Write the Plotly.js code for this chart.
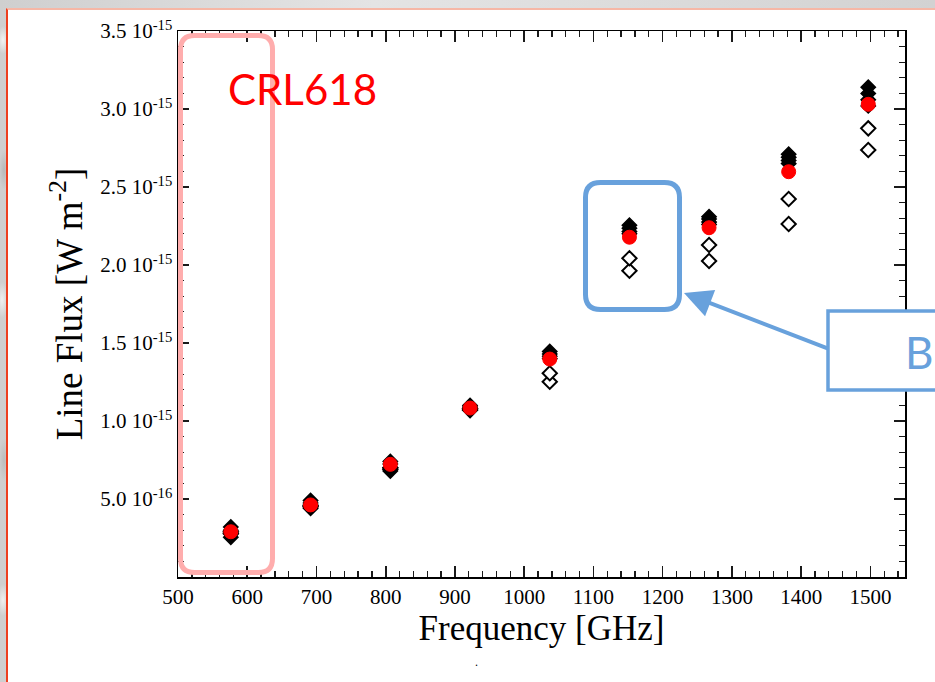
<!DOCTYPE html>
<html>
<head>
<meta charset="utf-8">
<script src="https://cdn.plot.ly/plotly-3.0.1.min.js"></script>
<style>
  html, body { margin: 0; padding: 0; }
  body {
    width: 935px; height: 682px; overflow: hidden; position: relative;
    background-color: #d6d6d6;
    background-image:
      radial-gradient(ellipse 6px 14px at 3px 40px, #f2f2f2 0%, transparent 100%),
      radial-gradient(ellipse 5px 20px at 4px 170px, #b8b8b8 0%, transparent 100%),
      radial-gradient(ellipse 6px 18px at 2px 300px, #efefef 0%, transparent 100%),
      radial-gradient(ellipse 5px 22px at 4px 460px, #bcbcbc 0%, transparent 100%),
      radial-gradient(ellipse 6px 16px at 3px 600px, #f0f0f0 0%, transparent 100%),
      linear-gradient(90deg, #cfcfcf, #e4e4e4 40%, #d2d2d2);
  }
  #sheet {
    position: absolute; left: 6px; top: 8px; width: 940px; height: 690px;
    background: #ffffff;
    border-left: 2px solid #ee3f1f;
    border-top: 2px solid #f6b7a6;
  }
  #chart { position: absolute; left: 0; top: 0; width: 935px; height: 682px; }
</style>
</head>
<body>
<div id="sheet"></div>
<div id="chart"></div>
<script>
// CO ladder line frequencies (GHz), J=5-4 up to J=13-12
const frequency = [576.27, 691.47, 806.65, 921.80, 1036.91, 1151.99, 1267.01, 1381.99, 1496.92];

// Line fluxes in W m^-2
const modelA = [3.20e-16, 4.90e-16, 7.40e-16, 1.100e-15, 1.445e-15, 2.255e-15, 2.310e-15, 2.710e-15, 3.140e-15];
const modelB = [3.00e-16, 4.75e-16, 7.25e-16, 1.090e-15, 1.430e-15, 2.235e-15, 2.295e-15, 2.690e-15, 3.100e-15];
const modelC = [2.75e-16, 4.55e-16, 7.00e-16, 1.080e-15, 1.415e-15, 2.215e-15, 2.275e-15, 2.670e-15, 3.060e-15];
const modelD = [2.55e-16, 4.40e-16, 6.80e-16, 1.070e-15, 1.400e-15, 2.200e-15, 2.260e-15, 2.650e-15, 3.020e-15];
const bestFit = [2.90e-16, 4.62e-16, 7.22e-16, 1.083e-15, 1.397e-15, 2.178e-15, 2.239e-15, 2.598e-15, 3.030e-15];
const altFit1 = [2.90e-16, 4.60e-16, 7.00e-16, 1.080e-15, 1.306e-15, 2.043e-15, 2.128e-15, 2.423e-15, 2.876e-15];
const altFit2 = [2.80e-16, 4.50e-16, 6.90e-16, 1.070e-15, 1.252e-15, 1.963e-15, 2.026e-15, 2.263e-15, 2.737e-15];

const yTickVals = [5.0e-16, 1.0e-15, 1.5e-15, 2.0e-15, 2.5e-15, 3.0e-15, 3.5e-15];
const yTickText = ['5.0 10<sup>-16</sup>', '1.0 10<sup>-15</sup>', '1.5 10<sup>-15</sup>',
                   '2.0 10<sup>-15</sup>', '2.5 10<sup>-15</sup>', '3.0 10<sup>-15</sup>',
                   '3.5 10<sup>-15</sup>'];

// minor y ticks every 1e-16 between the labelled ones
const yMinorVals = [];
for (let i = 1; i < 35; i++) { if (i % 5 !== 0) yMinorVals.push(i * 1e-16); }

// plot area in page pixels
const L = 178, R = 905, T = 31, B = 577;
const W = R - L, H = B - T;
const px = x => (x - L) / W;
const py = y => (B - y) / H;

function roundRect(x0, y0, x1, y1, r) {
  const P = (x, y) => px(x) + ',' + py(y);
  return 'M' + P(x0 + r, y0) + ' L' + P(x1 - r, y0) +
         ' Q' + P(x1, y0) + ' ' + P(x1, y0 + r) +
         ' L' + P(x1, y1 - r) +
         ' Q' + P(x1, y1) + ' ' + P(x1 - r, y1) +
         ' L' + P(x0 + r, y1) +
         ' Q' + P(x0, y1) + ' ' + P(x0, y1 - r) +
         ' L' + P(x0, y0 + r) +
         ' Q' + P(x0, y0) + ' ' + P(x0 + r, y0) + ' Z';
}

const openDiamond = {symbol: 'diamond', size: 11, color: '#ffffff', line: {color: '#000000', width: 2}};
const filledDiamond = {symbol: 'diamond', size: 11, color: '#000000', line: {color: '#000000', width: 1.5}};

function series(y, marker) {
  return {x: frequency, y: y, type: 'scatter', mode: 'markers', marker: marker,
          hoverinfo: 'x+y', cliponaxis: false};
}

const traces = [
  series(altFit2, openDiamond),
  series(altFit1, openDiamond),
  series(modelD, filledDiamond),
  series(modelC, filledDiamond),
  series(modelB, filledDiamond),
  series(modelA, filledDiamond),
  series(bestFit, {symbol: 'circle', size: 14, color: '#ff0000', line: {color: '#ff0000', width: 1}})
];

const serif = 'Liberation Serif, Times New Roman, serif';
const blue = '#68a1dc';

const axisCommon = {
  showgrid: false, zeroline: false, showline: true, linecolor: '#000000', linewidth: 1.5,
  mirror: 'ticks', ticks: 'inside', ticklen: 11, tickwidth: 1.6, tickcolor: '#1a1a1a',
  tickfont: {family: serif, size: 21, color: '#000000'}
};

const layout = {
  width: 935, height: 682,
  margin: {l: L, r: 935 - R, t: T, b: 682 - B, pad: 0},
  paper_bgcolor: 'rgba(0,0,0,0)',
  plot_bgcolor: '#ffffff',
  showlegend: false,
  xaxis: Object.assign({}, axisCommon, {
    range: [500, 1550],
    tickmode: 'linear', tick0: 500, dtick: 100,
    minor: {dtick: 20, ticks: 'inside', ticklen: 6, tickwidth: 1.3, tickcolor: '#1a1a1a'},
    title: {text: 'Frequency [GHz]', font: {family: serif, size: 35, color: '#000000'}, standoff: 6}
  }),
  yaxis: Object.assign({}, axisCommon, {
    range: [0, 3.5e-15],
    tickmode: 'array', tickvals: yTickVals, ticktext: yTickText,
    minor: {tickmode: 'array', tickvals: yMinorVals, ticks: 'inside', ticklen: 6, tickwidth: 1.3, tickcolor: '#1a1a1a'},
    title: {text: 'Line Flux [W m<sup>-2</sup>]', font: {family: serif, size: 37, color: '#000000'}, standoff: 6}
  }),
  shapes: [
    {type: 'path', xref: 'paper', yref: 'paper', layer: 'above',
     path: roundRect(180.5, 35.5, 272.5, 572.5, 14),
     line: {color: '#ffadad', width: 5}},
    {type: 'path', xref: 'paper', yref: 'paper', layer: 'above',
     path: roundRect(585.5, 182.5, 679.5, 309.5, 15),
     line: {color: blue, width: 5}},
    {type: 'rect', xref: 'paper', yref: 'paper', layer: 'above',
     x0: px(828), x1: px(960), y0: py(311), y1: py(390),
     fillcolor: '#ffffff', line: {color: blue, width: 3.5}}
  ],
  annotations: [
    {xref: 'paper', yref: 'paper', x: px(226), y: py(89), xanchor: 'left', yanchor: 'middle',
     text: 'CRL618', showarrow: false, font: {family: 'Lato, Open Sans, sans-serif', size: 42, color: '#ff0000'}},
    {xref: 'paper', yref: 'paper', x: px(684), y: py(293), ax: 145, ay: 56,
     axref: 'pixel', ayref: 'pixel', text: '', showarrow: true,
     arrowhead: 2, arrowsize: 1.4, arrowwidth: 4, arrowcolor: blue},
    {xref: 'paper', yref: 'paper', x: px(903), y: py(352), xanchor: 'left', yanchor: 'middle',
     text: 'B', showarrow: false, font: {family: 'Lato, Open Sans, sans-serif', size: 44, color: blue}},
    {xref: 'paper', yref: 'paper', x: px(476), y: py(662), xanchor: 'center', yanchor: 'middle',
     text: '.', showarrow: false, font: {family: serif, size: 12, color: '#000000'}}
  ]
};

Plotly.newPlot('chart', traces, layout, {staticPlot: true, displayModeBar: false});
</script>
</body>
</html>
